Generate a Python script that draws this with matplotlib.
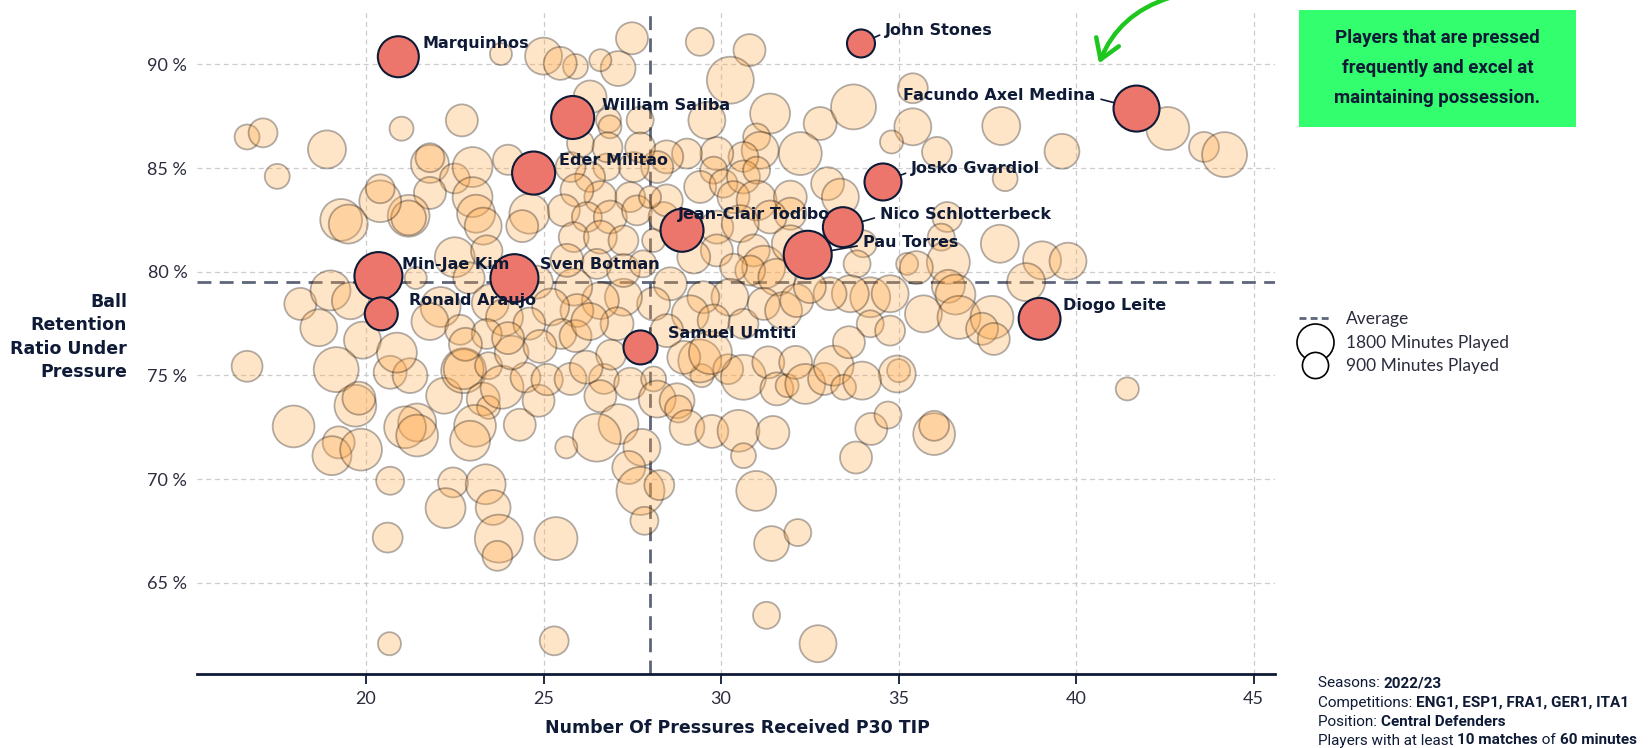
import matplotlib
matplotlib.use("Agg")
import matplotlib.pyplot as plt
from matplotlib.lines import Line2D
from matplotlib.patches import FancyArrowPatch, Rectangle
import numpy as np

# ---------------- data ----------------
# other central defenders: pressures received P30 TIP, retention ratio (%), minutes played
px = [23.8, 16.65, 17.1, 18.9, 17.5, 21.0, 22.7, 21.8, 21.8, 22.5, 23.0, 24.0, 23.0, 23.1, 23.3, 21.8, 21.2, 21.2,
      20.4, 20.4, 19.3, 19.5, 24.6, 24.4, 18.15, 19.0, 19.56, 18.67, 19.9, 22.5, 23.4, 21.4, 22.1, 21.8, 22.65, 22.9,
      23.5, 23.9, 25.0,
      16.65, 19.16, 19.7, 19.8, 17.96, 19.23, 19.04, 19.86, 20.68, 20.61, 20.66, 20.68, 21.24, 20.87, 21.44, 21.1,
      21.44, 22.2, 22.75, 22.75, 23.45, 23.3, 23.45, 23.83, 23.07, 22.93, 24.33, 24.49, 24.86, 25.1, 24.1, 22.45,
      22.24, 23.37, 23.58, 23.74, 23.7, 25.35, 25.3,
      25.76, 26.7, 26.6, 27.44, 28.1, 28.2, 28.76, 28.8, 29.04, 29.74, 30.49, 31.46, 30.63, 27.11, 26.5, 25.64, 27.77,
      27.4, 27.73, 28.26, 27.84, 30.99, 31.42, 32.16, 31.28, 32.73, 33.8, 34.23, 34.7, 35.0, 34.96, 29.46, 29.4, 30.2,
      30.63, 31.33, 31.57, 31.86, 32.1, 32.37, 32.9, 33.17, 33.45, 33.97, 28.95, 29.7,
      41.44, 36.0, 36.0,
      29.4, 30.8, 30.26, 27.49, 27.1, 26.6, 25.9, 25.47, 27.72, 26.83, 26.31, 29.6, 31.38, 32.79, 33.73, 35.4, 35.4,
      34.8, 31.0, 32.23, 31.1, 30.63, 29.88, 29.79, 29.04, 28.47, 28.2, 27.54, 26.78, 26.31, 25.76, 26.87, 27.44, 26.6,
      25.94, 25.57, 26.22, 26.88, 27.63, 25.85, 26.6, 27.25, 28.1, 28.38, 28.47, 29.41, 30.07, 30.63, 31.0, 30.35,
      31.0, 31.95, 31.95, 31.38, 29.88, 30.54, 29.88, 29.23, 30.92, 31.2, 30.82, 31.57, 31.95, 33.0, 33.36, 34.0,
      33.83, 34.2, 33.64, 33.07, 34.76, 35.24, 34.2, 34.76, 30.35, 30.25, 29.5, 29.13, 29.79, 30.63, 31.2, 31.76,
      32.13, 32.5, 28.57, 28.1, 27.25, 26.6, 25.85, 25.94, 27.07, 28.47, 25.66, 26.5, 27.25, 27.8, 28.0, 26.04, 26.8,
      27.72,
      42.58, 43.6, 44.18, 39.6, 37.89, 38.0, 36.08, 36.37, 36.2, 36.4, 37.85, 39.04, 39.77, 38.59, 36.4, 36.6, 35.7,
      36.7, 37.63, 37.35, 37.68, 35.5,
      24.8, 25.2, 24.6, 25.5, 24.9, 25.9, 26.3, 23.4, 22.8, 24.0, 26.9, 26.2, 33.6]
py = [90.5, 86.5, 86.7, 85.9, 84.6, 86.9, 87.3, 85.2, 85.5, 84.5, 85.05, 85.4, 83.6, 82.8, 82.2, 83.8, 82.7, 82.6,
      83.4, 84.0, 82.5, 82.3, 82.8, 82.2, 78.45, 79.1, 78.6, 77.3, 76.7, 80.7, 81.0, 79.7, 78.3, 77.6, 77.2, 79.7,
      78.5, 77.8, 90.4,
      75.44, 75.28, 73.54, 73.9, 72.54, 71.77, 71.13, 71.42, 69.92, 67.18, 62.06, 75.15, 74.99, 76.1, 72.73, 72.5,
      72.1, 74.02, 75.23, 75.3, 75.47, 73.86, 73.46, 74.43, 72.57, 71.85, 72.62, 74.9, 73.78, 74.8, 76.1, 69.84,
      68.6, 69.75, 68.63, 67.13, 66.3, 67.13, 62.2,
      74.83, 74.83, 74.0, 74.6, 74.83, 73.86, 73.78, 73.38, 72.49, 72.3, 72.33, 72.25, 71.13, 72.65, 72.0, 71.53, 71.53,
      70.56, 69.43, 69.71, 67.99, 69.43, 66.89, 67.42, 63.43, 62.06, 71.04, 72.42, 73.09, 75.23, 75.07, 74.99, 75.7, 75.3,
      74.91, 75.63, 74.35, 74.51, 75.63, 74.59, 74.83, 75.47, 74.43, 74.75, 75.87, 76.1,
      74.35, 72.17, 72.57,
      91.09, 90.69, 89.24, 91.26, 89.8, 90.2, 89.9, 90.05, 87.31, 87.31, 88.43, 87.3, 87.63, 87.15, 87.95, 88.85, 86.99,
      86.26, 86.5, 85.7, 85.86, 85.54, 85.7, 84.9, 85.7, 85.54, 85.05, 85.05, 85.05, 84.57, 85.05, 86.99, 83.6, 83.6,
      83.93, 82.96, 82.64, 82.64, 82.96, 81.67, 81.67, 81.51, 81.51, 82.64, 83.44, 84.09, 84.25, 84.57, 84.9, 83.6,
      83.44, 83.6, 82.8, 82.64, 82.15, 82.32, 81.03, 80.71, 81.03, 80.22, 80.06, 79.74, 81.35, 84.25, 83.6, 81.35,
      80.38, 78.77, 78.94, 78.94, 78.94, 80.38, 77.49, 77.16, 80.22, 78.77, 78.77, 77.97, 77.65, 77.49, 78.45, 78.13,
      78.61, 79.26, 79.42, 78.45, 78.77, 78.61, 79.26, 78.13, 77.49, 77.16, 80.55, 80.38, 80.06, 80.38, 83.6, 86.18, 86.0,
      86.0,
      86.91, 86.02, 85.65, 85.81, 87.03, 84.49, 85.78, 82.64, 81.67, 80.46, 81.35, 80.55, 80.51, 79.5, 79.3, 78.9, 77.97,
      77.8, 77.8, 77.25, 76.76, 80.2,
      79.5, 78.3, 77.5, 77.0, 76.4, 76.9, 77.6, 77.0, 76.5, 76.8, 76.0, 75.4, 76.6]
pmin = [640, 820, 1100, 1900, 820, 760, 1350, 1900, 1100, 1180, 2100, 1200, 2100, 1900, 1800, 1350, 2300, 1600,
        2300, 1100, 2300, 2000, 2100, 1350, 1350, 2100, 1800, 1800, 1800, 2100, 1300, 640, 2100, 1800, 1180, 1300,
        1800, 1800, 1800,
        1260, 2660, 2300, 1430, 2300, 1350, 2000, 2300, 1030, 1180, 700, 1430, 1600, 2100, 1900, 2300,
        2300, 1700, 2660, 2100, 960, 1430, 700, 2430, 2300, 2100, 1350, 1180, 1350, 1300, 1500, 1180,
        2100, 2100, 1600, 3030, 1180, 2430, 1100,
        1350, 1180, 1350, 1350, 820, 1800, 1600, 960, 1600, 1430, 2300, 1430, 820, 2100, 3030, 640, 1800,
        1430, 3030, 1180, 1030, 2100, 1600, 960, 960, 1800, 1350, 1350, 960, 700, 1800, 700, 2430, 1180,
        2660, 1350, 1430, 700, 1430, 2100, 1350, 2100, 820, 1900, 1430, 2430,
        700, 2300, 1180,
        1030, 1350, 2900, 1350, 1600, 640, 820, 1430, 960, 820, 1430, 1800, 2100, 1430, 2660, 1180, 1800,
        700, 960, 2430, 1800, 1180, 1430, 960, 1180, 1430, 1350, 1180, 960, 1180, 1180, 700, 1180, 1350,
        1430, 1350, 1180, 1430, 1180, 1180, 1430, 1180, 700, 1180, 1350, 1350, 1030, 1430, 960, 1350,
        2100, 1430, 1350, 1430, 1430, 1800, 1350, 1430, 1350, 2430, 1180, 1800, 1800, 1430, 1800, 960,
        960, 2100, 1800, 1430, 1800, 640, 960, 1180, 960, 1800, 1350, 1800, 1350, 1180, 1350, 1800,
        1430, 1350, 1430, 1430, 1800, 1800, 1800, 1430, 1430, 1430, 1430, 1180, 1430, 960, 640, 960, 1180,
        1180,
        2430, 1180, 2660, 1600, 1900, 820, 1180, 1180, 960, 2430, 1900, 1900, 1800, 1900, 1430, 2100, 1800,
        2430, 2430, 1350, 1350, 1430,
        1430, 1800, 1350, 1180, 1430, 1350, 1800, 1180, 1430, 1350, 1180, 1430, 1350]

# highlighted players
names = ["Marquinhos", "William Saliba", "Eder Militao", "Min-Jae Kim", "Ronald Araujo", "Sven Botman",
         "Jean-Clair Todibo", "John Stones", "Facundo Axel Medina", "Josko Gvardiol", "Nico Schlotterbeck",
         "Pau Torres", "Samuel Umtiti", "Diogo Leite"]
hx = [20.91, 25.82, 24.72, 20.35, 20.43, 24.18, 28.9, 33.94, 41.7, 34.56, 33.43, 32.44, 27.73, 38.97]
hy = [90.37, 87.44, 84.76, 79.79, 77.97, 79.69, 82.0, 91.01, 87.87, 84.33, 82.15, 80.82, 76.35, 77.73]
hmin = [2210, 2430, 2440, 3030, 1430, 3030, 2430, 1030, 2780, 1800, 2100, 3030, 1520, 2300]

avg_x = 28.0
avg_y = 79.5
x_ticks = [20, 25, 30, 35, 40, 45]
y_ticks = [65, 70, 75, 80, 85, 90]
legend_minutes = [1800, 900]

# ---------------- layout / style ----------------
W, H = 1652, 748
DPI = 100
NAVY = "#0e1a36"
AVG_C = "#5d6679"
TICK_C = "#2b2d3d"
S_PER_MIN = (37 * 0.72) ** 2 / 1800.0   # marker area (pt^2) per minute

# label offsets in pixels (dx, dy up, ha, draw connector)
label_layout = {
    "Marquinhos": (24, 13, "left", False),
    "William Saliba": (29, 12, "left", False),
    "Eder Militao": (25, 13, "left", False),
    "Min-Jae Kim": (24, 12, "left", False),
    "Ronald Araujo": (28, 13, "left", False),
    "Sven Botman": (26, 14, "left", False),
    "Jean-Clair Todibo": (-4, 16, "left", False),
    "John Stones": (24, 13, "left", True),
    "Facundo Axel Medina": (-41, 13, "right", True),
    "Josko Gvardiol": (28, 13, "left", True),
    "Nico Schlotterbeck": (37, 13, "left", True),
    "Pau Torres": (55, 12, "left", True),
    "Samuel Umtiti": (28, 13.5, "left", False),
    "Diogo Leite": (23, 13, "left", False),
}

fig = plt.figure(figsize=(W / DPI, H / DPI), dpi=DPI)
ax = fig.add_axes([197 / W, 74 / H, (1275 - 197) / W, (674 - 10.5) / H])

ax.set_xlim(15.24, 45.6)
ax.set_ylim(60.6, 92.6)

ax.set_axisbelow(True)
ax.grid(True, color="#cccccc", linestyle=(0, (4, 3)), linewidth=0.9)

ax.axvline(avg_x, color=AVG_C, linestyle=(0, (5, 3)), linewidth=2, zorder=1.5)
ax.axhline(avg_y, color=AVG_C, linestyle=(0, (5, 3)), linewidth=2, zorder=1.5)

ax.scatter(px, py, s=np.array(pmin) * S_PER_MIN, facecolor="#FFA94A", edgecolor="#000000",
           alpha=0.3, linewidth=1.3, zorder=2)
ax.scatter(hx, hy, s=np.array(hmin) * S_PER_MIN, facecolor="#EC766B", edgecolor=NAVY,
           linewidth=1.5, zorder=4)

for n, x, y, m in zip(names, hx, hy, hmin):
    dx, dy, ha, conn = label_layout[n]
    kw = {}
    if conn:
        r_pt = np.sqrt(m * S_PER_MIN) / 2
        kw["arrowprops"] = dict(arrowstyle="-", color=NAVY, lw=1.2, shrinkA=2, shrinkB=r_pt,
                                relpos=(0, 0.35) if ha == "left" else (1, 0.35))
    ax.annotate(n, xy=(x, y), xytext=(dx, dy), textcoords="offset pixels", ha=ha, va="center",
                fontsize=11.5, fontweight="bold", color=NAVY, family="DejaVu Sans", zorder=6, **kw)

# axes styling
for s in ["top", "right", "left"]:
    ax.spines[s].set_visible(False)
ax.spines["bottom"].set_color(NAVY)
ax.spines["bottom"].set_linewidth(2.0)
ax.set_xticks(x_ticks)
ax.set_yticks(y_ticks)
ax.set_yticklabels([f"{v} %" for v in y_ticks])
ax.tick_params(axis="x", direction="out", length=7.5, width=1.3, color=NAVY, pad=5)
ax.tick_params(axis="y", length=0, pad=7)
for lab in ax.get_xticklabels() + ax.get_yticklabels():
    lab.set_family("Lato")
    lab.set_fontweight("normal")
    lab.set_fontsize(13)
    lab.set_color(TICK_C)

ax.set_xlabel("Number Of Pressures Received P30 TIP", fontsize=12.5, fontweight="bold", color=NAVY,
              family="DejaVu Sans")
ax.xaxis.set_label_coords(0.5014, -0.081)
ax.xaxis.label.set_va("center")
ax.set_ylabel("Ball\nRetention\nRatio Under\nPressure", fontsize=12.5, fontweight="bold", color=NAVY,
              family="DejaVu Sans", rotation=0, ha="right", va="center", multialignment="right",
              linespacing=1.38)
ax.yaxis.set_label_coords(-0.065, 0.508)

# legend
handles = [Line2D([], [], color=AVG_C, linestyle=(0, (2.5, 1.5)), lw=2)]
for m in legend_minutes:
    handles.append(Line2D([], [], marker="o", linestyle="", markerfacecolor="white",
                          markeredgecolor="black", markeredgewidth=1.2,
                          markersize=np.sqrt(m * S_PER_MIN)))
labels = ["Average"] + [f"{m} Minutes Played" for m in legend_minutes]
leg = fig.legend(handles, labels, loc="upper left", bbox_to_anchor=(1299 / W, 1 - 311 / H),
                 frameon=False, borderpad=0, borderaxespad=0, handlelength=1.9, handletextpad=0.8,
                 labelspacing=0.44, prop={"family": "Lato", "size": 12.5})
for t in leg.get_texts():
    t.set_color(TICK_C)

# green call-out box
bx0, by0, bx1, by1 = 1299, 10, 1576, 126.7
fig.patches.append(Rectangle((bx0 / W, 1 - by1 / H), (bx1 - bx0) / W, (by1 - by0) / H,
                             transform=fig.transFigure, facecolor="#33FF6E", edgecolor="none", zorder=1))
fig.text((bx0 + bx1) / 2 / W, 1 - (by0 + by1) / 2 / H,
         "Players that are pressed\nfrequently and excel at\nmaintaining possession.",
         ha="center", va="center", ma="center", fontsize=13.5, fontweight="bold", color=NAVY,
         family="Roboto", linespacing=1.85, zorder=2)

arrow = FancyArrowPatch((1172 / W, 1.004), (1098 / W, 1 - 66 / H), transform=fig.transFigure,
                        connectionstyle="arc3,rad=0.25",
                        arrowstyle="->,head_length=0.55,head_width=0.35", mutation_scale=25,
                        color="#1DC71D", lw=3.2)
fig.patches.append(arrow)

# footnote with bold parts
renderer = fig.canvas.get_renderer()
FOOT_SIZE = 11


def text_width(txt, weight, size):
    t1 = fig.text(0, 0, "|" + txt + "|", fontsize=size, fontweight=weight, family="Roboto")
    t2 = fig.text(0, 0, "||", fontsize=size, fontweight=weight, family="Roboto")
    w = t1.get_window_extent(renderer).width - t2.get_window_extent(renderer).width
    t1.remove()
    t2.remove()
    return w


foot_lines = [
    [("Seasons: ", False), ("2022/23", True)],
    [("Competitions: ", False), ("ENG1, ESP1, FRA1, GER1, ITA1", True)],
    [("Position: ", False), ("Central Defenders", True)],
    [("Players with at least ", False), ("10 matches", True), (" of ", False), ("60 minutes", True)],
]
foot_base = [687, 706.5, 726, 744.5]
for parts, yb in zip(foot_lines, foot_base):
    x = 1318.0
    for txt, b in parts:
        wgt = "bold" if b else "normal"
        fig.text(x / W, 1 - yb / H, txt, fontsize=FOOT_SIZE, fontweight=wgt, family="Roboto",
                 color=NAVY, ha="left", va="baseline")
        x += text_width(txt, wgt, FOOT_SIZE)

fig.savefig("out.png", dpi=DPI)
